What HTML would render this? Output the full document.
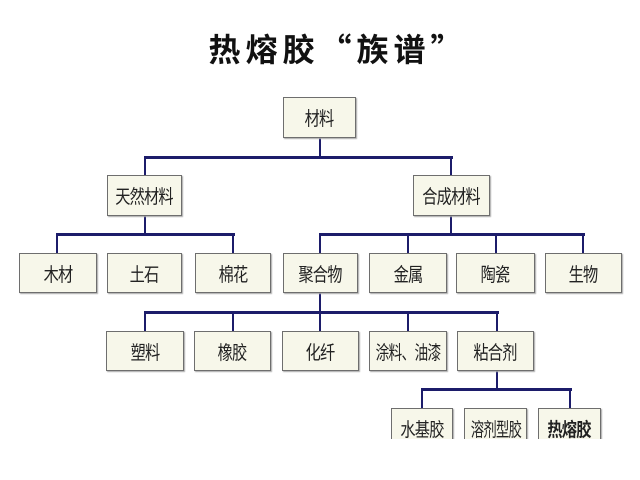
<!DOCTYPE html>
<html><head><meta charset="utf-8"><style>
body{margin:0;width:640px;height:480px;background:#fff;position:relative;overflow:hidden;font-family:"Liberation Sans","Noto Sans CJK SC",sans-serif}
.b{position:absolute;box-sizing:border-box;background:#f7f7ea;border:1px solid #6e6e6e;box-shadow:1px 1px 1px #aaa;display:flex;align-items:center;justify-content:center;font-size:19px;color:#222;white-space:nowrap;overflow:visible}
.b span{display:inline-block;transform:scaleX(0.8);letter-spacing:-1px}
.h,.v{position:absolute;background:#1c1c6a}
.h{height:3px}.v{width:2px}
.t{position:absolute;left:178px;top:25px;width:320px;text-align:center;font:bold 32px "Noto Sans CJK SC",sans-serif;color:#111;letter-spacing:5px;white-space:nowrap}
</style></head><body>
<div class="t">热熔胶“族谱”</div>
<div class="v" style="left:319px;top:138px;height:19px"></div>
<div class="h" style="left:144px;top:156px;width:309px"></div>
<div class="v" style="left:144px;top:156px;height:20px"></div>
<div class="v" style="left:450px;top:156px;height:20px"></div>

<div class="v" style="left:144px;top:215px;height:20px"></div>
<div class="h" style="left:56px;top:233px;width:179px"></div>
<div class="v" style="left:56px;top:233px;height:20px"></div>
<div class="v" style="left:232px;top:233px;height:20px"></div>

<div class="v" style="left:450px;top:215px;height:20px"></div>
<div class="h" style="left:319px;top:233px;width:266px"></div>
<div class="v" style="left:319px;top:233px;height:20px"></div>
<div class="v" style="left:407px;top:233px;height:20px"></div>
<div class="v" style="left:495px;top:233px;height:20px"></div>
<div class="v" style="left:582px;top:233px;height:20px"></div>

<div class="v" style="left:319px;top:293px;height:38px"></div>
<div class="h" style="left:144px;top:311px;width:355px"></div>
<div class="v" style="left:144px;top:311px;height:20px"></div>
<div class="v" style="left:232px;top:311px;height:20px"></div>
<div class="v" style="left:407px;top:311px;height:20px"></div>
<div class="v" style="left:496px;top:311px;height:20px"></div>

<div class="v" style="left:496px;top:371px;height:20px"></div>
<div class="h" style="left:421px;top:388px;width:151px"></div>
<div class="v" style="left:421px;top:388px;height:20px"></div>
<div class="v" style="left:569px;top:388px;height:20px"></div>

<div class="b" style="left:283px;top:97px;width:73px;height:41px"><span>材料</span></div>
<div class="b" style="left:107px;top:175px;width:75px;height:41px"><span>天然材料</span></div>
<div class="b" style="left:413px;top:175px;width:77px;height:41px"><span>合成材料</span></div>

<div class="b" style="left:19px;top:253px;width:78px;height:40px"><span>木材</span></div>
<div class="b" style="left:107px;top:253px;width:75px;height:40px"><span>土石</span></div>
<div class="b" style="left:195px;top:253px;width:76px;height:40px"><span>棉花</span></div>
<div class="b" style="left:283px;top:253px;width:75px;height:40px"><span>聚合物</span></div>
<div class="b" style="left:369px;top:253px;width:78px;height:40px"><span>金属</span></div>
<div class="b" style="left:456px;top:253px;width:79px;height:40px"><span>陶瓷</span></div>
<div class="b" style="left:545px;top:253px;width:77px;height:40px"><span>生物</span></div>

<div class="b" style="left:106px;top:331px;width:78px;height:40px"><span>塑料</span></div>
<div class="b" style="left:194px;top:331px;width:77px;height:40px"><span>橡胶</span></div>
<div class="b" style="left:282px;top:331px;width:77px;height:40px"><span>化纤</span></div>
<div class="b" style="left:369px;top:331px;width:78px;height:40px"><span style="transform:scaleX(0.72)">涂料、油漆</span></div>
<div class="b" style="left:457px;top:331px;width:77px;height:40px"><span>粘合剂</span></div>

<div class="b" style="left:391px;top:408px;width:62px;height:40px;align-items:flex-start;padding-top:6px"><span>水基胶</span></div>
<div class="b" style="left:464px;top:408px;width:63px;height:40px;align-items:flex-start;padding-top:6px"><span style="transform:scaleX(0.7)">溶剂型胶</span></div>
<div class="b" style="left:538px;top:408px;width:63px;height:40px;align-items:flex-start;padding-top:6px;font-weight:bold"><span>热熔胶</span></div>
<div style="position:absolute;left:0;top:439px;width:640px;height:41px;background:#fff"></div>
</body></html>
